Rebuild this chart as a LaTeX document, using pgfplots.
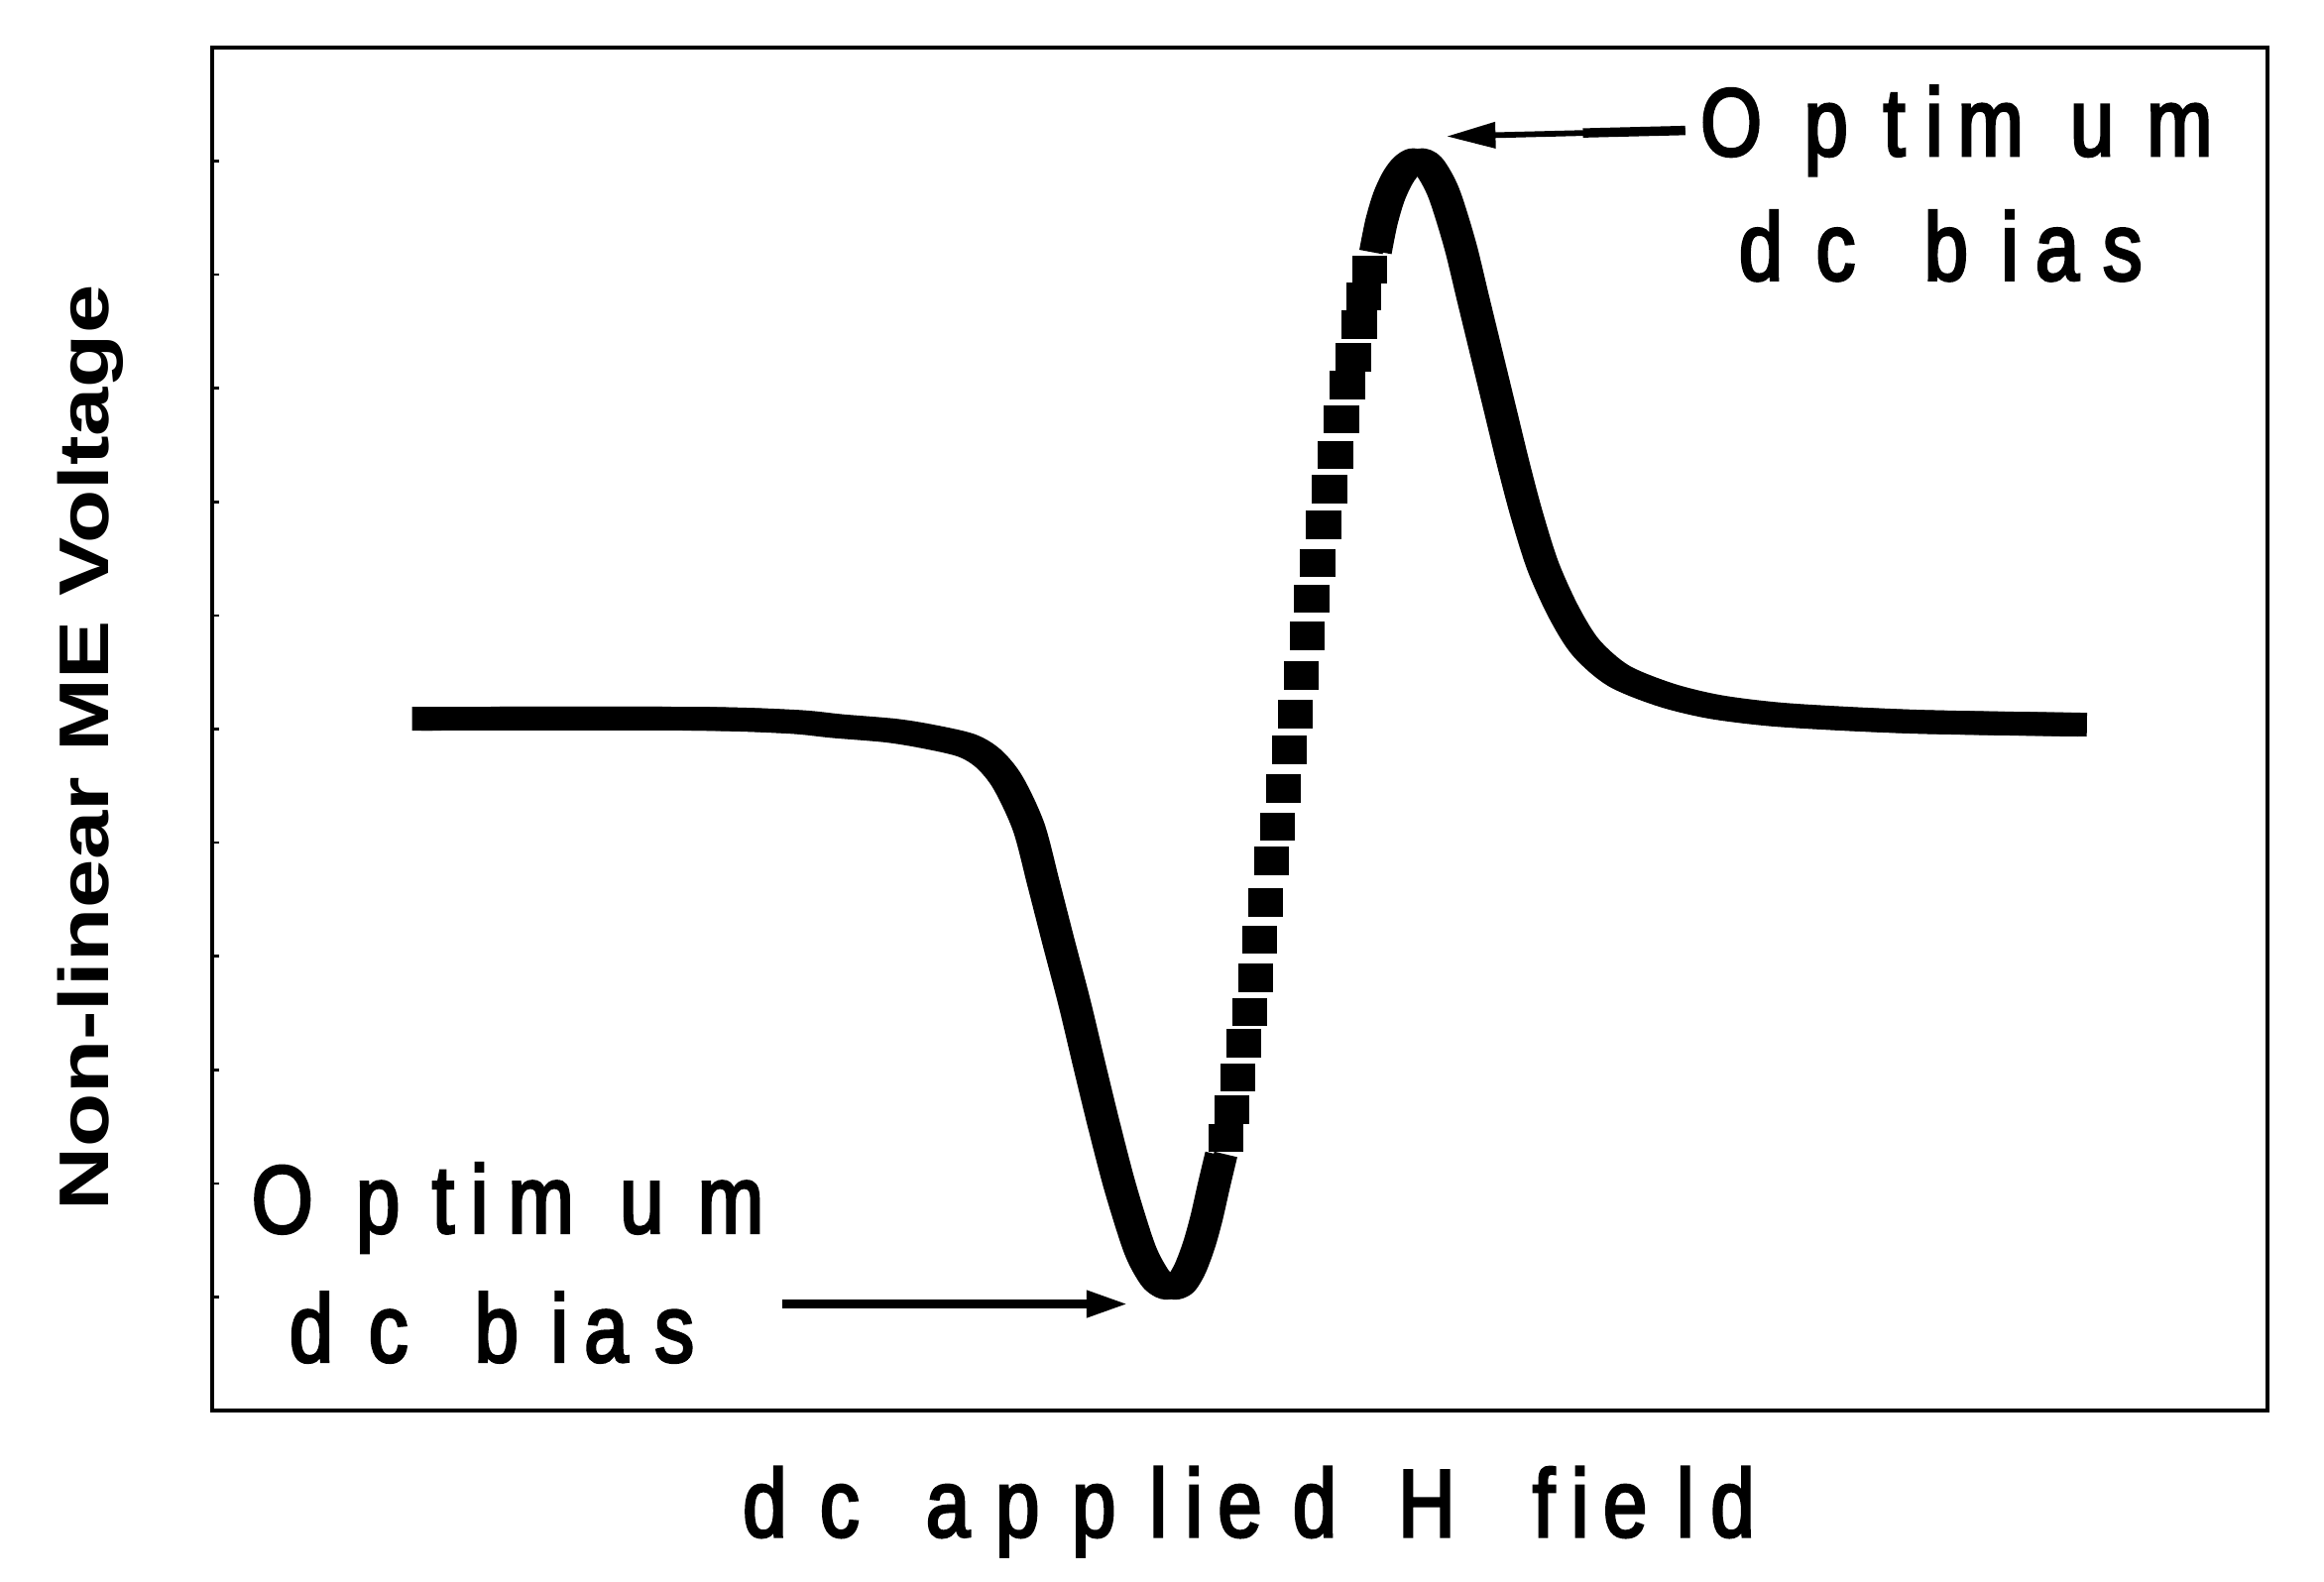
\documentclass[border=0pt]{standalone}
\usepackage{pgfplots}
\usepackage{pgfplotstable}
\pgfplotsset{compat=1.18}
\usepackage{fontspec}
\setmainfont{Liberation Sans}
\newfontfamily\narrowfont[FakeStretch=0.82, FakeBold=2.8]{Liberation Sans}
\newfontfamily\tallfont[FakeStretch=1.25]{Liberation Sans}
\usetikzlibrary{arrows.meta}

% falling branch down to the minimum
\pgfplotstableread{
X Y
-592 3
-406 3
-339 1
-308 -2
-272 -5
-247 -9
-221 -15
-206 -24
-193 -40
-179 -70
-169 -108
-159 -147
-148 -189
-138 -231
-128 -272
-117 -314
-104 -355
-94 -374
-87 -380
-82 -381
-76 -378
-70 -368
-64 -352
-59 -334
-54 -312
-49 -291
}\fallbranch

% steep rising part (appears as separate squares)
\pgfplotstableread{
X Y
-46 -280
-42 -261
-38 -239
-34 -216
-30 -195
-26 -172
-23 -146
-19 -121
-15 -93
-11 -70
-7 -44
-3 -18
1 6
5 32
9 59
12 84
16 108
20 134
24 158
28 181
32 205
36 228
40 247
44 269
47 288
51 306
}\risesquares

% peak and tail
\pgfplotstableread{
X Y
55 318
59 338
64 355
70 368
76 376
83 380
91 376
101 358
112 323
121 286
130 249
139 212
148 175
157 141
168 106
182 75
197 51
219 32
251 19
284 11
324 6
372 3
419 1
466 0
532 -1
}\peakbranch

\tikzset{
  lt/.style={anchor=base, inner sep=0pt, font=\narrowfont\fontsize{18.5}{20}\selectfont},
  curve/.style={black, line width=0.16cm, smooth, tension=0.5, line join=round},
}

\begin{document}
\begin{tikzpicture}
\begin{axis}[
    scale only axis,
    width=13.87cm, height=9.20cm,
    xmin=-730, xmax=657,
    ymin=-464, ymax=456,
    xtick=\empty,
    ytick={-387.33,-310.67,-234,-157.33,-80.67,-4,72.67,149.33,226,302.67,379.33},
    yticklabels={},
    ytick pos=left,
    tick align=inside,
    major tick length=0.05cm,
    tick style={black, line width=0.5pt},
    axis line style={black, line width=0.75pt},
    clip=false,
    ylabel={\tallfont\bfseries\fontsize{13.5}{15}\selectfont Non-linear ME Voltage},
    ylabel style={at={(rel axis cs:-0.0505,0.486)}, anchor=base},
]
% the curve is drawn twice, slightly shifted, to get the wide pen of the original
\addplot[curve, xshift=-0.03cm] table {\fallbranch};
\addplot[curve, xshift=0.03cm] table {\fallbranch};
\addplot[black, only marks, mark=square*, mark size=0.115cm,
    mark options={yscale=0.8, line width=0pt}] table {\risesquares};
\addplot[curve, xshift=-0.03cm] table {\peakbranch};
\addplot[curve, xshift=0.03cm] table {\peakbranch};

% arrows
\draw[line width=1.1pt, -{Triangle[length=3.3mm, width=1.7mm]}]
  (axis cs:264,400) -- (axis cs:103,396);
\draw[line width=1.8pt] (axis cs:195,398.3) -- (axis cs:264,400);
\draw[line width=1.7pt, -{Triangle[length=2.8mm, width=1.7mm]}]
  (axis cs:-345,-392) -- (axis cs:-112,-392);

% spaced-out annotation text
\foreach \x/\c in {295/O,359/p,405/t,432/i,470/m,538.5/u,597.5/m}
  {\edef\tmp{\noexpand\node[lt] at (axis cs:\x,383) {\c};}\tmp}
\foreach \x/\c in {315/d,365.5/c,440/b,483/i,515/a,559/s}
  {\edef\tmp{\noexpand\node[lt] at (axis cs:\x,299) {\c};}\tmp}
\foreach \x/\c in {-682.5/O,-618/p,-574/t,-549.5/i,-508/m,-440/u,-380/m}
  {\edef\tmp{\noexpand\node[lt] at (axis cs:\x,-344) {\c};}\tmp}
\foreach \x/\c in {-663/d,-611/c,-538/b,-495.5/i,-464/a,-418/s}
  {\edef\tmp{\noexpand\node[lt] at (axis cs:\x,-431) {\c};}\tmp}
% x label
\foreach \x/\c in {-357/d,-306.5/c,-233.5/a,-186.5/p,-135/p,-91.5/l,-67.5/i,
    -36.5/e,14/d,89.5/H,168.5/f,193/i,223.5/e,264/l,296/d}
  {\edef\tmp{\noexpand\node[lt] at (axis cs:\x,-549) {\c};}\tmp}
\end{axis}
\path (-1.43,-1.15) rectangle (14.25,9.52);
\end{tikzpicture}
\end{document}
